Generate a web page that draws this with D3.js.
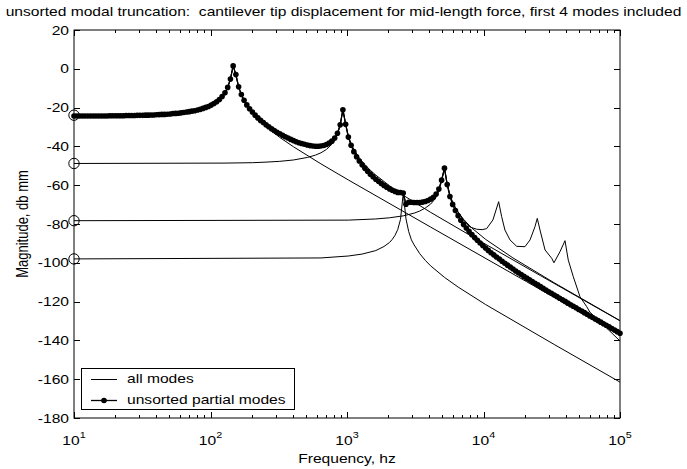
<!DOCTYPE html>
<html>
<head>
<meta charset="utf-8">
<script src="https://cdn.jsdelivr.net/npm/d3@7/dist/d3.min.js"></script>
<style>
  html, body { margin: 0; padding: 0; background: #fff; }
  svg { display: block; }
  text { font-family: "Liberation Sans", Arial, sans-serif; fill: #000; white-space: pre; }
</style>
</head>
<body>
<svg id="chart" width="687" height="469"></svg>
<script>
// Frequency sweep, log10(Hz): 200 points from 10 Hz to 100 kHz
const sweepLog10Hz = [
  1.000, 1.020, 1.040, 1.060, 1.080, 1.101, 1.121, 1.141, 1.161, 1.181,
  1.201, 1.221, 1.241, 1.261, 1.281, 1.302, 1.322, 1.342, 1.362, 1.382,
  1.402, 1.422, 1.442, 1.462, 1.482, 1.503, 1.523, 1.543, 1.563, 1.583,
  1.603, 1.623, 1.643, 1.663, 1.683, 1.704, 1.724, 1.744, 1.764, 1.784,
  1.804, 1.824, 1.844, 1.864, 1.884, 1.905, 1.925, 1.945, 1.965, 1.985,
  2.005, 2.025, 2.045, 2.065, 2.085, 2.106, 2.126, 2.146, 2.166, 2.186,
  2.206, 2.226, 2.246, 2.266, 2.286, 2.307, 2.327, 2.347, 2.367, 2.387,
  2.407, 2.427, 2.447, 2.467, 2.487, 2.508, 2.528, 2.548, 2.568, 2.588,
  2.608, 2.628, 2.648, 2.668, 2.688, 2.709, 2.729, 2.749, 2.769, 2.789,
  2.809, 2.829, 2.849, 2.869, 2.889, 2.910, 2.930, 2.950, 2.970, 2.990,
  3.010, 3.030, 3.050, 3.070, 3.090, 3.111, 3.131, 3.151, 3.171, 3.191,
  3.211, 3.231, 3.251, 3.271, 3.291, 3.312, 3.332, 3.352, 3.372, 3.392,
  3.412, 3.432, 3.452, 3.472, 3.492, 3.513, 3.533, 3.553, 3.573, 3.593,
  3.613, 3.633, 3.653, 3.673, 3.693, 3.714, 3.734, 3.754, 3.774, 3.794,
  3.814, 3.834, 3.854, 3.874, 3.894, 3.915, 3.935, 3.955, 3.975, 3.995,
  4.015, 4.035, 4.055, 4.075, 4.095, 4.116, 4.136, 4.156, 4.176, 4.196,
  4.216, 4.236, 4.256, 4.276, 4.296, 4.317, 4.337, 4.357, 4.377, 4.397,
  4.417, 4.437, 4.457, 4.477, 4.497, 4.518, 4.538, 4.558, 4.578, 4.598,
  4.618, 4.638, 4.658, 4.678, 4.698, 4.719, 4.739, 4.759, 4.779, 4.799,
  4.819, 4.839, 4.859, 4.879, 4.899, 4.920, 4.940, 4.960, 4.980, 5.000
];

// Tip displacement with the first four modes (unsorted), dB mm, one value per sweep point
const partialModesDb = [
  -24.3, -24.3, -24.3, -24.3, -24.3, -24.3, -24.3, -24.3, -24.3, -24.3, -24.3, -24.3, -24.3, -24.2,
  -24.2, -24.2, -24.2, -24.2, -24.2, -24.1, -24.1, -24.1, -24.1, -24.0, -24.0, -24.0, -23.9, -23.9,
  -23.8, -23.8, -23.7, -23.6, -23.5, -23.5, -23.4, -23.3, -23.1, -23.0, -22.9, -22.7, -22.5, -22.3,
  -22.1, -21.8, -21.6, -21.2, -20.9, -20.4, -19.9, -19.4, -18.7, -17.9, -17.0, -15.8, -14.3, -12.4,
  -9.6, -5.3, 1.5, -3.0, -9.3, -13.3, -16.2, -18.6, -20.6, -22.3, -23.9, -25.3, -26.6, -27.7,
  -28.9, -29.9, -30.9, -31.8, -32.7, -33.5, -34.3, -35.0, -35.7, -36.4, -37.0, -37.6, -38.1, -38.5,
  -38.9, -39.3, -39.6, -39.8, -39.9, -39.9, -39.8, -39.5, -39.0, -38.3, -37.3, -35.7, -33.2, -28.9,
  -21.1, -28.6, -35.2, -39.4, -42.7, -45.3, -47.5, -49.5, -51.2, -52.8, -54.3, -55.6, -56.9, -58.0,
  -59.1, -60.1, -61.0, -61.9, -62.6, -63.2, -63.7, -63.8, -64.0, -69.8, -68.8, -68.8, -68.9, -68.9,
  -68.9, -68.7, -68.4, -67.9, -67.2, -66.2, -64.6, -62.0, -57.4, -51.2, -59.7, -65.8, -69.9, -73.1,
  -75.8, -78.1, -80.2, -82.1, -83.8, -85.5, -87.0, -88.4, -89.8, -91.1, -92.4, -93.6, -94.8, -95.9,
  -97.0, -98.1, -99.2, -100.2, -101.2, -102.2, -103.2, -104.2, -105.1, -106.0, -107.0, -107.9, -108.8, -109.7,
  -110.6, -111.4, -112.3, -113.2, -114.0, -114.9, -115.7, -116.6, -117.4, -118.3, -119.1, -119.9, -120.8, -121.6,
  -122.4, -123.2, -124.1, -124.9, -125.7, -126.5, -127.4, -128.2, -129.0, -129.8, -130.6, -131.4, -132.2, -133.0,
  -133.9, -134.7, -135.5, -136.3
];

// All modes: below ~5 kHz it runs along the partial sum; above, its own vertices
const allModesSharedCount = 136;
const allModesHighLog10Hz = [
  3.734, 3.754, 3.774, 3.794, 3.814, 3.854, 3.900, 3.950, 3.990, 4.023,
  4.069, 4.111, 4.133, 4.157, 4.194, 4.243, 4.304, 4.341, 4.377, 4.394,
  4.414, 4.451, 4.500, 4.516, 4.560, 4.597, 4.621, 4.658, 4.707, 4.756,
  4.780, 4.878, 5.000
];
const allModesHighDb = [
  -59.5, -65.3, -69.0, -71.8, -74.0, -78.0, -81.5, -82.7, -82.9, -82.4,
  -77.9, -68.5, -76.2, -83.1, -88.2, -91.5, -91.7, -88.2, -81.4, -77.1,
  -83.1, -93.4, -97.7, -100.0, -94.3, -88.6, -98.6, -107.2, -117.5, -122.6,
  -125.5, -132.0, -140.3
];

// Single-mode contributions
const mode1Log10Hz = [1.000, 1.402, 1.603, 1.804, 1.905, 2.005, 2.065, 2.106, 2.126, 2.146, 2.166, 2.186,
  2.206, 2.226, 2.246, 2.307, 2.407, 2.508, 2.608, 2.809, 3.010, 3.613, 4.317, 5.000];
const mode1Db = [-23.9, -23.6, -23.2, -22.1, -20.9, -18.4, -15.6, -12.2, -9.5, -5.1, 1.6, -3.2,
  -9.3, -13.4, -16.3, -22.8, -29.8, -35.4, -40.2, -49.0, -57.3, -81.6, -109.8, -137.1];

const mode2Log10Hz = [1.000, 2.106, 2.307, 2.407, 2.508, 2.608, 2.709, 2.769, 2.809, 2.849, 2.889, 2.910,
  2.930, 2.950, 2.970, 2.990, 3.010, 3.030, 3.050, 3.090, 3.131, 3.171, 3.211, 3.312, 3.412, 3.613,
  3.915, 4.417, 5.000];
const mode2Db = [-48.8, -48.6, -48.4, -48.1, -47.7, -47.0, -45.7, -44.5, -43.3, -41.6, -38.9, -36.8,
  -33.9, -29.2, -21.1, -28.4, -34.6, -38.5, -41.5, -45.9, -49.4, -52.3, -54.8, -60.3, -65.2, -74.0,
  -86.4, -106.6, -129.9];

const mode3Log10Hz = [1.000, 2.809, 3.010, 3.111, 3.211, 3.271, 3.312, 3.332, 3.352, 3.372, 3.392, 3.412,
  3.432, 3.452, 3.472, 3.492, 3.533, 3.573, 3.613, 3.714, 3.814, 4.015, 4.518, 5.000];
const mode3Db = [-98.0, -97.5, -96.5, -95.5, -93.7, -91.6, -89.5, -87.9, -85.8, -82.8, -77.6, -64.2,
  -77.3, -83.9, -88.2, -90.8, -95.3, -98.7, -101.6, -107.5, -112.5, -121.5, -142.1, -161.5];

const mode4Log10Hz = [1.000, 3.010, 3.211, 3.312, 3.412, 3.492, 3.533, 3.573, 3.613, 3.633, 3.653, 3.673,
  3.693, 3.714, 3.734, 3.754, 3.774, 3.794, 3.814, 3.854, 3.915, 4.015, 4.216, 4.518, 5.000];
const mode4Db = [-78.3, -78.0, -77.4, -76.8, -75.8, -74.4, -73.3, -71.8, -69.7, -68.1, -66.0, -63.0,
  -58.0, -51.3, -59.4, -65.0, -68.7, -71.5, -73.8, -77.6, -82.1, -87.9, -97.5, -110.3, -129.8];

// Axis ticks and labels
const yTickValues = [20, 0, -20, -40, -60, -80, -100, -120, -140, -160, -180];
const xDecadeHz = [10, 100, 1000, 10000, 100000];
const xDecadeExponent = ["1", "2", "3", "4", "5"];
const legendLabels = ["all modes", "unsorted partial modes"];
const titleText = "unsorted modal truncation:  cantilever tip displacement for mid-length force, first 4 modes included";

// ---- layout ----
const frame = { left: 74, right: 620, top: 30, bottom: 418 };
const stretchX = 1.2;          // text is drawn horizontally widened
const fontPx = 13;
const dotR = 2.8;

const x = d3.scaleLog().domain([10, 1e5]).range([frame.left, frame.right]);
const y = d3.scaleLinear().domain([-180, 20]).range([frame.bottom, frame.top]);
const hz = e => Math.pow(10, e);

const svg = d3.select("#chart");

function addText(parent, tx, ty, str, anchor, size) {
  return parent.append("text")
    .attr("transform", `translate(${tx},${ty}) scale(${stretchX},1)`)
    .attr("text-anchor", anchor || "start")
    .attr("font-size", size || fontPx)
    .text(str);
}

const pairs = (xs, ys) => xs.map((e, i) => [e, ys[i]]);
const line = d3.line().x(d => x(hz(d[0]))).y(d => y(d[1]));

const dataLayer = svg.append("g");

// single-mode curves
[[mode1Log10Hz, mode1Db], [mode2Log10Hz, mode2Db], [mode3Log10Hz, mode3Db], [mode4Log10Hz, mode4Db]]
  .forEach(([xs, ys]) => {
    dataLayer.append("path")
      .attr("d", line(pairs(xs, ys)))
      .attr("fill", "none").attr("stroke", "#000").attr("stroke-width", 1);
  });

// all modes
const allModes = pairs(sweepLog10Hz.slice(0, allModesSharedCount), partialModesDb.slice(0, allModesSharedCount))
  .concat(pairs(allModesHighLog10Hz, allModesHighDb));
dataLayer.append("path")
  .attr("d", line(allModes))
  .attr("fill", "none").attr("stroke", "#000").attr("stroke-width", 1);

// unsorted partial modes: line with dots
const partial = pairs(sweepLog10Hz, partialModesDb);
dataLayer.append("path")
  .attr("d", line(partial))
  .attr("fill", "none").attr("stroke", "#000").attr("stroke-width", 1.3);
dataLayer.selectAll("circle.dot").data(partial).enter().append("circle")
  .attr("class", "dot")
  .attr("cx", d => x(hz(d[0]))).attr("cy", d => y(d[1]))
  .attr("r", dotR).attr("fill", "#000");

// open circles at the start of each single-mode curve
const startDb = [mode1Db[0], mode2Db[0], mode3Db[0], mode4Db[0]];
dataLayer.selectAll("circle.start").data(startDb).enter().append("circle")
  .attr("class", "start")
  .attr("cx", x(hz(mode1Log10Hz[0]))).attr("cy", d => y(d))
  .attr("r", 5.2).attr("fill", "none").attr("stroke", "#000").attr("stroke-width", 1);

// ---- axes box and ticks ----
const axes = svg.append("g").attr("stroke", "#000").attr("stroke-width", 1).attr("fill", "none");
axes.append("rect")
  .attr("x", frame.left).attr("y", frame.top)
  .attr("width", frame.right - frame.left).attr("height", frame.bottom - frame.top);

const majorLen = 6, minorLen = 3;
yTickValues.forEach(v => {
  const yy = Math.round(y(v)) + 0.5;
  axes.append("line").attr("x1", frame.left).attr("x2", frame.left + majorLen).attr("y1", yy).attr("y2", yy);
  axes.append("line").attr("x1", frame.right).attr("x2", frame.right - majorLen).attr("y1", yy).attr("y2", yy);
});
x.ticks().forEach(v => {
  const xx = Math.round(x(v)) + 0.5;
  const isMajor = xDecadeHz.includes(v);
  const len = isMajor ? majorLen : minorLen;
  axes.append("line").attr("x1", xx).attr("x2", xx).attr("y1", frame.bottom).attr("y2", frame.bottom - len);
  axes.append("line").attr("x1", xx).attr("x2", xx).attr("y1", frame.top).attr("y2", frame.top + len);
});

// tick labels
const labels = svg.append("g");
yTickValues.forEach(v => addText(labels, 69, y(v) + 4.6, String(v), "end"));
xDecadeHz.forEach((v, i) => {
  const t = labels.append("text")
    .attr("transform", `translate(${x(v)},445) scale(${stretchX},1)`)
    .attr("text-anchor", "middle").attr("font-size", fontPx);
  t.append("tspan").text("10");
  t.append("tspan").attr("dy", -7).attr("font-size", 9).text(xDecadeExponent[i]);
});

// axis titles and chart title
addText(labels, (frame.left + frame.right) / 2, 463, "Frequency, hz", "middle");
labels.append("text")
  .attr("transform", `translate(28,${(frame.top + frame.bottom) / 2}) scale(${stretchX},1) rotate(-90)`)
  .attr("text-anchor", "middle").attr("font-size", fontPx)
  .text("Magnitude, db mm");
addText(labels, 343.5, 15.5, titleText, "middle");

// ---- legend ----
const legend = svg.append("g");
legend.append("rect")
  .attr("x", 81.5).attr("y", 368.5).attr("width", 213).attr("height", 41)
  .attr("fill", "#fff").attr("stroke", "#000").attr("stroke-width", 1);
const rowY = [379, 400];
legend.append("line").attr("x1", 91).attr("x2", 117).attr("y1", rowY[0] + 0.5).attr("y2", rowY[0] + 0.5)
  .attr("stroke", "#000").attr("stroke-width", 1);
legend.append("line").attr("x1", 91).attr("x2", 117).attr("y1", rowY[1] + 0.5).attr("y2", rowY[1] + 0.5)
  .attr("stroke", "#000").attr("stroke-width", 1.3);
legend.append("circle").attr("cx", 104).attr("cy", rowY[1] + 0.5).attr("r", dotR).attr("fill", "#000");
legendLabels.forEach((s, i) => addText(legend, 127, rowY[i] + 4, s, "start"));
</script>
</body>
</html>
